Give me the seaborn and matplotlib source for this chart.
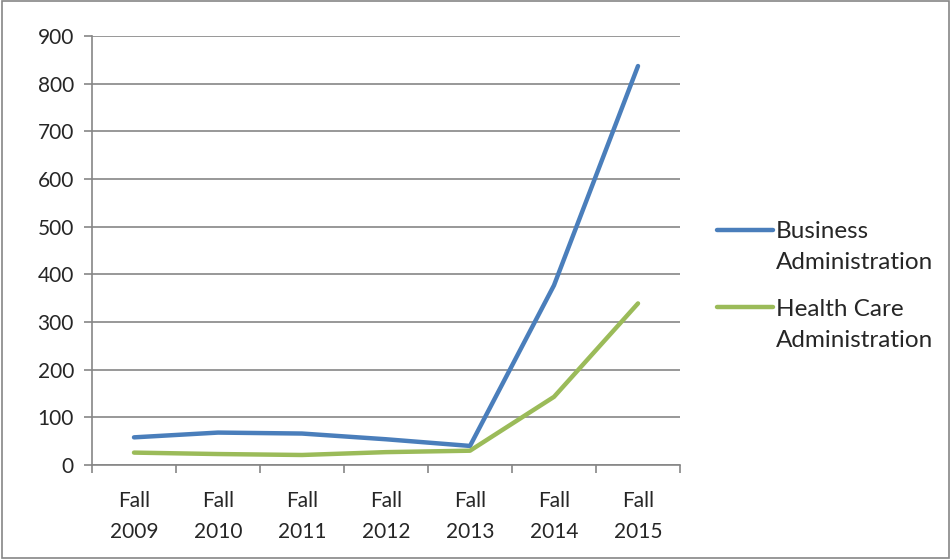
import matplotlib
matplotlib.use("Agg")
import matplotlib.pyplot as plt
import seaborn as sns
import pandas as pd

terms = ["Fall\n2009", "Fall\n2010", "Fall\n2011", "Fall\n2012", "Fall\n2013", "Fall\n2014", "Fall\n2015"]
business = [58, 68, 66, 54, 40, 377, 837]
health = [26, 23, 21, 27, 30, 143, 339]
yticks = [0, 100, 200, 300, 400, 500, 600, 700, 800, 900]

sns.set_theme(style="white")
plt.rcParams["font.family"] = ["Lato", "DejaVu Sans"]

df = pd.DataFrame({
    "term": list(range(len(terms))) * 2,
    "count": business + health,
    "program": ["Business\nAdministration"] * len(terms) + ["Health Care\nAdministration"] * len(terms),
})

fig = plt.figure(figsize=(9.51, 5.59), dpi=100)
ax = fig.add_axes([92 / 951, 1 - 465 / 559, 588 / 951, 429 / 559])

sns.lineplot(data=df, x="term", y="count", hue="program",
             palette=["#4A7EBB", "#9BBB59"], linewidth=3.2,
             solid_capstyle="round", ax=ax)

ax.set_xlim(-0.5, len(terms) - 0.5)
ax.set_ylim(0, 900)
ax.set_yticks(yticks)
ax.set_yticklabels([str(v) for v in yticks], fontsize=15)
ax.grid(axis="y", color="#868686", linewidth=1.2)
ax.set_axisbelow(True)

# category labels at centers, tick marks at boundaries
ax.set_xticks(range(len(terms)))
ax.set_xticklabels(terms, fontsize=15, linespacing=1.65)
ax.tick_params(axis="x", length=0, pad=19)
ax.set_xticks([i - 0.5 for i in range(len(terms) + 1)], minor=True)
ax.tick_params(axis="x", which="minor", length=6, width=1.2, color="#868686", direction="out", bottom=True)
ax.tick_params(axis="y", length=6, width=1.2, color="#868686", direction="out", left=True, pad=7)

for side in ["top", "right"]:
    ax.spines[side].set_visible(False)
for side in ["left", "bottom"]:
    ax.spines[side].set_color("#868686")
    ax.spines[side].set_linewidth(1.2)

ax.set_xlabel("")
ax.set_ylabel("")

leg = ax.legend(loc="upper left", bbox_to_anchor=(717 / 951, 1 - 221 / 559),
                bbox_transform=fig.transFigure, frameon=False, borderpad=0,
                borderaxespad=0, fontsize=17.5, handlelength=2.3,
                handletextpad=0.12, labelspacing=1.05)
for text in leg.get_texts():
    text.set_linespacing(1.6)
for line in leg.get_lines():
    line.set_linewidth(3.2)
# handle next to the first line of each label
for col in leg._legend_handle_box.get_children():
    for row in col.get_children():
        row.align = "top"

# outer chart border
fig.patches.append(plt.Rectangle((0.002, 0.002), 0.996, 0.996, transform=fig.transFigure,
                                 fill=False, edgecolor="#868686", linewidth=1.2))

fig.savefig("out.png", dpi=100)
